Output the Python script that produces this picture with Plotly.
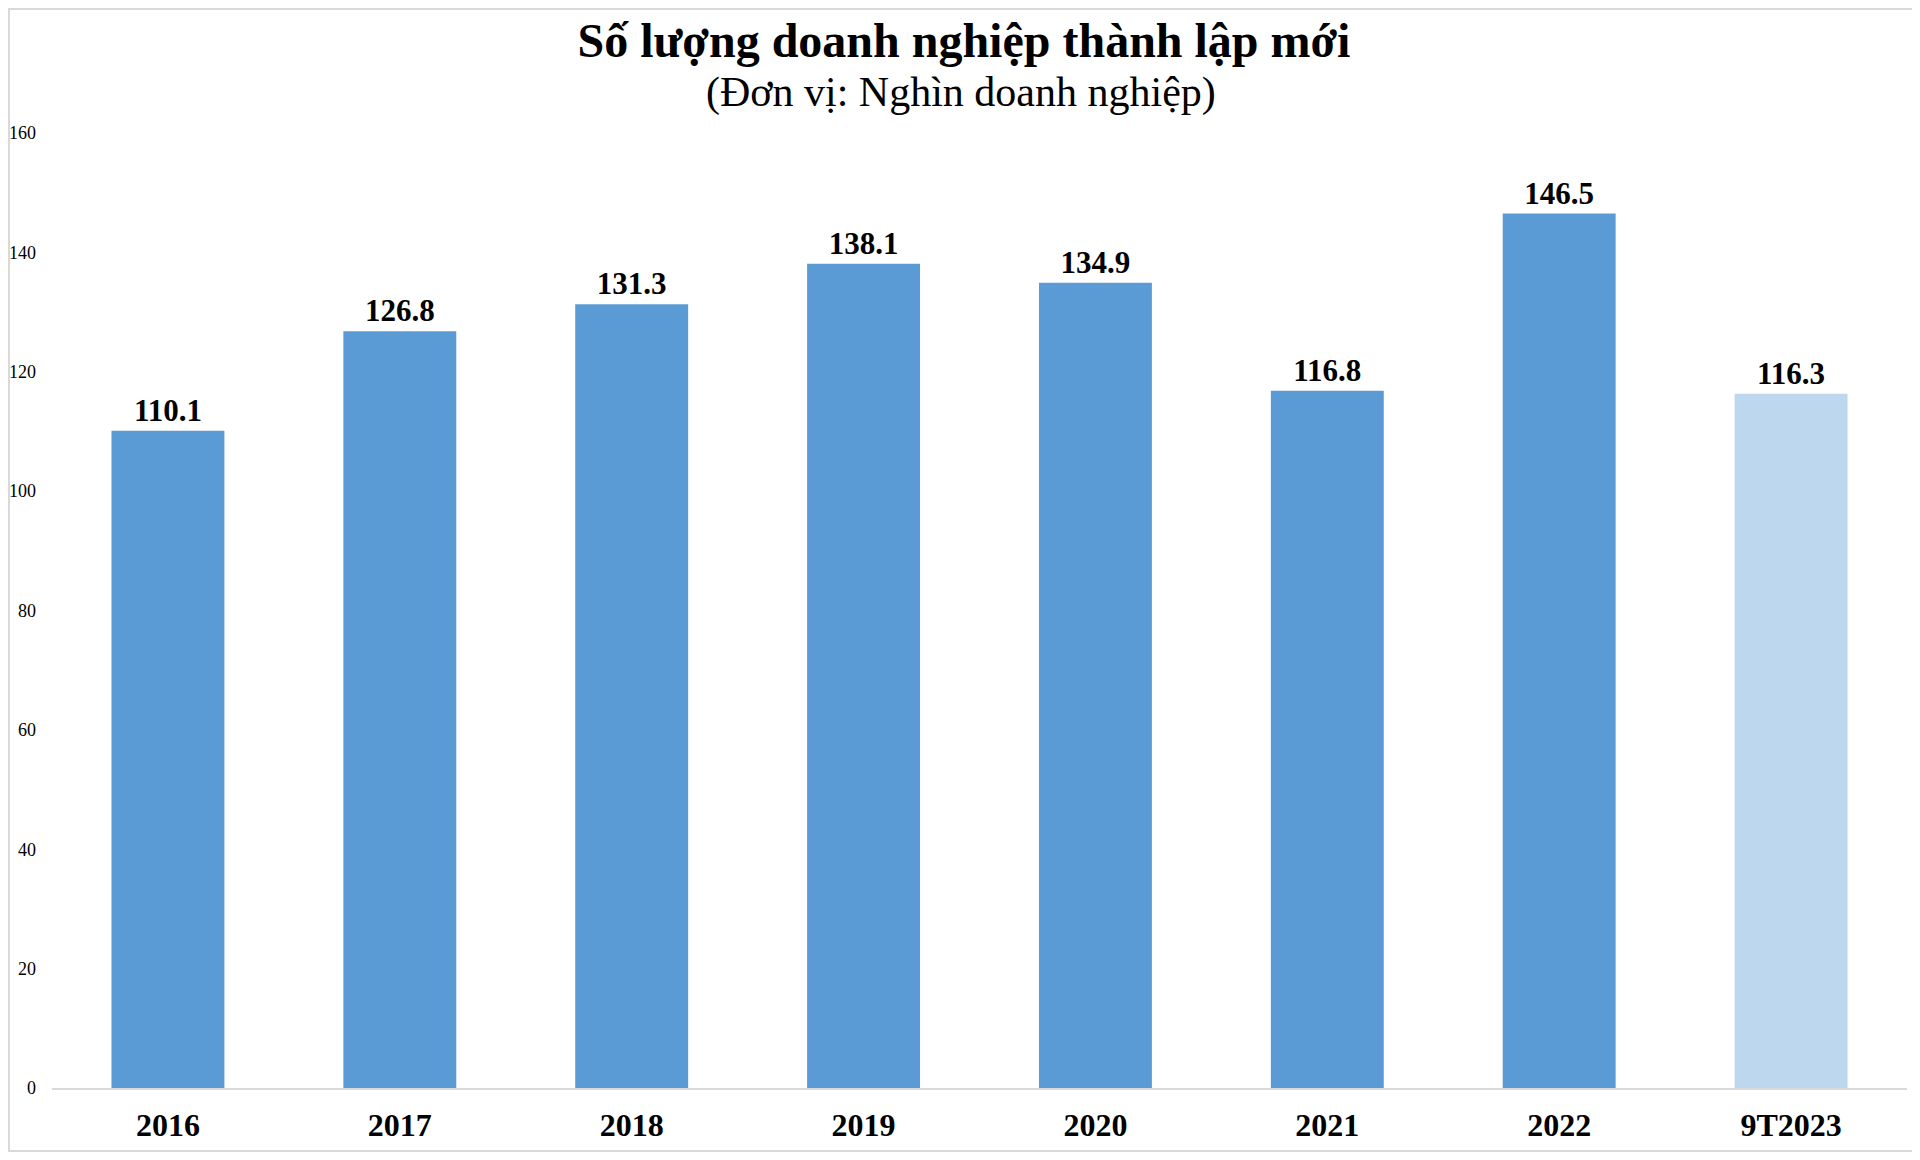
import plotly.graph_objects as go

# data
years = ["2016", "2017", "2018", "2019", "2020", "2021", "2022", "9T2023"]
new_firms = [110.1, 126.8, 131.3, 138.1, 134.9, 116.8, 146.5, 116.3]
bar_colors = ["#5B9BD5"] * 7 + ["#BDD7EE"]
y_ticks = [0, 20, 40, 60, 80, 100, 120, 140, 160]

# the page puts the figure 8px in from the top left corner
W, H = 1912, 1152
L, R, T, B = 44, 13, 125, 72
PW, PH = W - L - R, H - T - B

fig = go.Figure(go.Bar(
    x=years,
    y=new_firms,
    marker_color=bar_colors,
    marker_line_width=0,
    text=[f"{v:.1f}" for v in new_firms],
    textposition="outside",
    cliponaxis=False,
    textfont=dict(family="Liberation Serif", size=31, color="#000000", weight="bold"),
))

fig.update_layout(
    width=W,
    height=H,
    paper_bgcolor="white",
    plot_bgcolor="white",
    bargap=0.513,
    showlegend=False,
    margin=dict(l=L, r=R, t=T, b=B),
    title=dict(
        text="<b>Số lượng doanh nghiệp thành lập mới</b>",
        x=0.5, xanchor="center",
        y=1 - 32 / H, yanchor="middle",
        font=dict(family="Liberation Serif", size=48, color="#000000"),
    ),
    annotations=[dict(
        text="(Đơn vị: Nghìn doanh nghiệp)",
        xref="paper", yref="paper",
        x=(953 - L) / PW, y=(H - B - 84) / PH,
        xanchor="center", yanchor="middle",
        showarrow=False,
        font=dict(family="Liberation Serif", size=42, color="#000000"),
    )],
    shapes=[
        # thin frame around the picture (top, left, bottom)
        dict(type="line", xref="paper", yref="paper",
             x0=-L / PW, x1=(W - L) / PW, y0=(H - B - 1) / PH, y1=(H - B - 1) / PH,
             line=dict(color="#D9D9D9", width=2)),
        dict(type="line", xref="paper", yref="paper",
             x0=(1 - L) / PW, x1=(1 - L) / PW, y0=-63 / PH, y1=(H - B) / PH,
             line=dict(color="#D9D9D9", width=2)),
        dict(type="line", xref="paper", yref="paper",
             x0=-L / PW, x1=(W - L) / PW, y0=-63 / PH, y1=-63 / PH,
             line=dict(color="#D9D9D9", width=2)),
    ],
)

fig.update_xaxes(
    automargin=False,
    showline=True, linecolor="#D9D9D9", linewidth=2,
    showgrid=False, ticks="",
    tickfont=dict(family="Liberation Serif", size=32, color="#000000", weight="bold"),
    ticklabelstandoff=8,
)
fig.update_yaxes(
    automargin=False,
    range=[0, 160],
    tickvals=y_ticks,
    showline=False, showgrid=False, zeroline=False, ticks="",
    tickfont=dict(family="Liberation Serif", size=18, color="#000000"),
    ticklabelstandoff=15,
)

fig.write_html("out.html")
